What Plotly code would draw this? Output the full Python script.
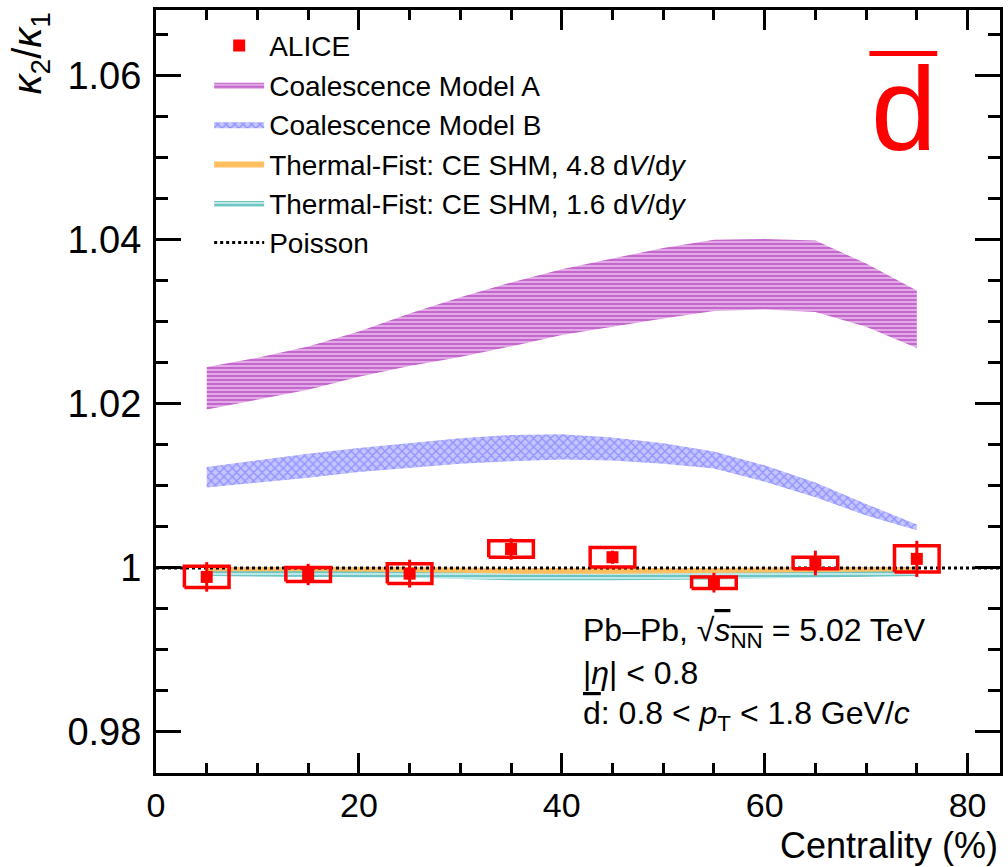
import plotly.graph_objects as go

# ---------------- data ----------------
cent = [5, 15, 25, 35, 45, 55, 65, 75]
alice = [0.9989, 0.9992, 0.9993, 1.0023, 1.0013, 0.9982, 1.0006, 1.0011]
alice_stat = [0.0018, 0.0013, 0.0017, 0.0013, 0.0008, 0.0012, 0.0015, 0.0022]
alice_sys = [0.0013, 0.00085, 0.0012, 0.0010, 0.0012, 0.0007, 0.0007, 0.0016]

x_model = [5, 10, 15, 20, 25, 30, 35, 40, 45, 50, 55, 60, 65, 70, 75]
modelA_up = [1.0245, 1.0256, 1.0270, 1.0288, 1.0310, 1.0330, 1.0348, 1.0364,
             1.0377, 1.0390, 1.0400, 1.0401, 1.0399, 1.0371, 1.0338]
modelA_lo = [1.0193, 1.0205, 1.0217, 1.0233, 1.0246, 1.0257, 1.0270, 1.0284,
             1.0294, 1.0304, 1.0313, 1.0315, 1.0312, 1.0294, 1.0268]
modelB_up = [1.0123, 1.0131, 1.0139, 1.0146, 1.0152, 1.0158, 1.0162, 1.0163,
             1.0159, 1.0152, 1.0142, 1.0125, 1.0104, 1.0078, 1.0053]
modelB_lo = [1.0098, 1.0104, 1.0110, 1.0117, 1.0122, 1.0127, 1.0130, 1.0132,
             1.0131, 1.0127, 1.0121, 1.0105, 1.0086, 1.0064, 1.0046]

x_tf = [5, 15, 25, 35, 45, 55, 65, 75]
tf48_up = [1.0001, 1.0001, 1.0001, 1.0000, 1.0000, 1.0000, 1.0001, 1.0001]
tf48_lo = [0.9996, 0.9996, 0.9995, 0.9993, 0.9993, 0.9994, 0.9995, 0.9996]
tf16_up = [0.9998, 0.9998, 0.9997, 0.9996, 0.9996, 0.9996, 0.9997, 0.9998]
tf16_lo = [0.9990, 0.9989, 0.9988, 0.9985, 0.9985, 0.9986, 0.9988, 0.9990]

poisson = 1.0
x_range = [0, 83.2]
y_range = [0.975, 1.068]
x_ticks = [0, 20, 40, 60, 80]
y_ticks = [0.98, 1.0, 1.02, 1.04, 1.06]
y_ticklabels = ["0.98", "1", "1.02", "1.04", "1.06"]

BOX_HALF = 2.2
RED = "#ff0000"
FONT = "Liberation Sans, Arial, sans-serif"


def band(x, up, lo):
    return list(x) + list(x)[::-1], list(up) + list(lo)[::-1]


fig = go.Figure()

bx, by = band(x_model, modelA_up, modelA_lo)
fig.add_trace(go.Scatter(
    x=bx, y=by, mode="lines", fill="toself", line=dict(width=0, color="#a828b4"),
    fillcolor="rgba(0,0,0,0)",
    fillpattern=dict(shape="-", fgcolor="#a61fb2", bgcolor="#e4b0e8", size=4, solidity=0.55),
    name="Coalescence Model A", legendrank=2))

bx, by = band(x_model, modelB_up, modelB_lo)
fig.add_trace(go.Scatter(
    x=bx, y=by, mode="lines", fill="toself", line=dict(width=0, color="#7777ff"),
    fillcolor="rgba(0,0,0,0)",
    fillpattern=dict(shape="x", fgcolor="#5f5fff", bgcolor="#c4c4ff", size=6, solidity=0.4),
    name="Coalescence Model B", legendrank=3))

bx, by = band(x_tf, tf16_up, tf16_lo)
fig.add_trace(go.Scatter(
    x=bx, y=by, mode="lines", fill="toself", line=dict(width=0, color="#22a0a0"),
    fillcolor="rgba(0,0,0,0)",
    fillpattern=dict(shape="-", fgcolor="#1f9e9e", bgcolor="#bde8e8", size=4, solidity=0.5),
    name="Thermal-Fist: CE SHM, 1.6 d<i>V</i>/d<i>y</i>", legendrank=5))

bx, by = band(x_tf, tf48_up, tf48_lo)
fig.add_trace(go.Scatter(
    x=bx, y=by, mode="lines", fill="toself", line=dict(width=0, color="#ffbf60"),
    fillcolor="#ffbf60",
    name="Thermal-Fist: CE SHM, 4.8 d<i>V</i>/d<i>y</i>", legendrank=4))

fig.add_trace(go.Scatter(
    x=x_range, y=[poisson, poisson], mode="lines",
    line=dict(color="black", width=3, dash="dot"),
    name="Poisson", legendrank=6))

# systematic boxes
sx, sy = [], []
for xc, yc, s in zip(cent, alice, alice_sys):
    sx += [xc - BOX_HALF, xc + BOX_HALF, xc + BOX_HALF, xc - BOX_HALF, xc - BOX_HALF, None]
    sy += [yc - s, yc - s, yc + s, yc + s, yc - s, None]
fig.add_trace(go.Scatter(x=sx, y=sy, mode="lines", line=dict(color=RED, width=3.5),
                         showlegend=False, hoverinfo="skip"))

fig.add_trace(go.Scatter(
    x=cent, y=alice, mode="markers",
    marker=dict(symbol="square", size=12, color=RED),
    error_y=dict(type="data", array=alice_stat, color=RED, thickness=3, width=0),
    name="ALICE", legendrank=1))

axis_common = dict(
    showline=True, linecolor="black", linewidth=3, mirror="ticks",
    ticks="inside", tickcolor="black", tickwidth=3,
    showgrid=False, zeroline=False,
)

fig.update_xaxes(range=x_range, tickvals=x_ticks, ticklen=20,
                 tickfont=dict(family=FONT, size=34, color="black"),
                 minor=dict(dtick=5, tick0=0, ticklen=10, tickwidth=3, ticks="inside", tickcolor="black"),
                 **axis_common)
fig.update_yaxes(range=y_range, tickvals=y_ticks, ticktext=y_ticklabels, ticklen=25,
                 tickfont=dict(family=FONT, size=38, color="black"), ticklabelstandoff=4,
                 minor=dict(dtick=0.005, tick0=0.98, ticklen=12, tickwidth=3, ticks="inside", tickcolor="black"),
                 **axis_common)

fig.update_layout(
    width=1008, height=867,
    margin=dict(l=156, r=5, t=10, b=94),
    paper_bgcolor="white", plot_bgcolor="white",
    font=dict(family=FONT, color="black"),
    showlegend=True,
    legend=dict(x=0.063, y=0.986, xanchor="left", yanchor="top",
                bgcolor="rgba(0,0,0,0)", font=dict(family=FONT, size=28),
                itemwidth=50, tracegroupgap=0, traceorder="normal"),
)

# axis titles
fig.add_annotation(xref="paper", yref="paper", x=(30 - 156) / 847, y=1.0, xanchor="center", yanchor="top",
                   text="<i>κ</i><sub>2</sub>/<i>κ</i><sub>1</sub>", textangle=-90, showarrow=False,
                   font=dict(family=FONT, size=40))
fig.add_annotation(xref="paper", yref="paper", x=1.0, y=(773 - 845) / 763, xanchor="right", yanchor="middle",
                   text="Centrality (%)", showarrow=False, font=dict(family=FONT, size=36))

# d-bar label
fig.add_annotation(xref="paper", yref="paper", x=0.886, y=(773 - 41) / 763, xanchor="center", yanchor="top",
                   text="d", showarrow=False, font=dict(family=FONT, size=118, color=RED))
fig.add_shape(type="line", xref="paper", yref="paper", x0=0.8453, x1=0.9256, y0=0.943, y1=0.943,
              line=dict(color=RED, width=5))

# info text
info = [
    "Pb–Pb, √<span style='text-decoration:overline'><i>s</i><sub>NN</sub></span> = 5.02 TeV",
    "|<i>η</i>| &lt; 0.8",
    "<span style='text-decoration:overline'>d</span>: 0.8 &lt; <i>p</i><sub>T</sub> &lt; 1.8 GeV/<i>c</i>",
]
info_y = [632, 673, 715]
for t, yp in zip(info, info_y):
    fig.add_annotation(xref="paper", yref="paper", x=(583 - 156) / 847, y=(773 - yp) / 763,
                       xanchor="left", yanchor="middle", text=t, showarrow=False,
                       font=dict(family=FONT, size=32))

fig.write_html("out.html")
